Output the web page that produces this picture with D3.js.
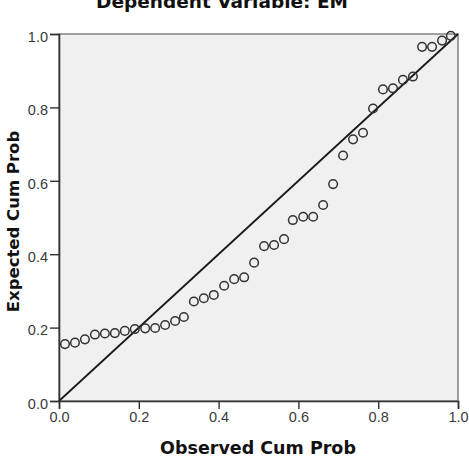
<!DOCTYPE html>
<html>
<head>
<meta charset="utf-8">
<script src="https://cdn.jsdelivr.net/npm/d3@7"></script>
<style>
  body { margin: 0; background: #fff; }
  .tick text { font-family: "Liberation Sans", Arial, sans-serif; font-size: 14.5px; fill: #3a3a3a; }
  .lbl { font-family: "DejaVu Sans", sans-serif; font-weight: bold; fill: #111; }
</style>
</head>
<body>
<div id="chart"></div>
<script>
var observed = [0.015, 0.040, 0.065, 0.090, 0.115, 0.140, 0.165, 0.190, 0.216, 0.241,
                0.266, 0.291, 0.313, 0.338, 0.363, 0.388, 0.414, 0.439, 0.464, 0.489,
                0.514, 0.539, 0.564, 0.586, 0.612, 0.637, 0.662, 0.687, 0.712, 0.737,
                0.762, 0.787, 0.812, 0.837, 0.862, 0.887, 0.910, 0.935, 0.960, 0.982],
    expected = [0.155, 0.159, 0.168, 0.181, 0.184, 0.185, 0.191, 0.196, 0.198, 0.199,
                0.207, 0.218, 0.229, 0.271, 0.280, 0.289, 0.314, 0.332, 0.337, 0.377,
                0.422, 0.425, 0.441, 0.493, 0.502, 0.502, 0.534, 0.591, 0.669, 0.713,
                0.731, 0.797, 0.849, 0.852, 0.875, 0.884, 0.965, 0.965, 0.982, 0.995],
    ticks = [0, 0.2, 0.4, 0.6, 0.8, 1.0],
    title = "Dependent Variable: EM",
    xTitle = "Observed Cum Prob",
    yTitle = "Expected Cum Prob";

var margin = { top: 34, right: 11, bottom: 74, left: 59 },
    W = 469, H = 475,
    width = W - margin.left - margin.right,
    height = H - margin.top - margin.bottom;

var svg = d3.select("#chart").append("svg")
    .attr("width", W)
    .attr("height", H);

// title sits mostly above the visible area, as in the original export
svg.append("text").attr("class", "lbl")
    .attr("x", 222).attr("y", 8)
    .style("font-size", "18.5px")
    .attr("text-anchor", "middle")
    .text(title);

var g = svg.append("g")
    .attr("transform", "translate(" + margin.left + "," + margin.top + ")");

var x = d3.scaleLinear().domain([0, 1]).range([0, width]),
    y = d3.scaleLinear().domain([0, 1]).range([height, 0]);

// plot background + frame
g.append("rect")
    .attr("width", width).attr("height", height)
    .attr("fill", "#f0f0f0")
    .attr("stroke", "#666").attr("stroke-width", 1.2);

// reference line
g.append("line")
    .attr("x1", x(0)).attr("y1", y(0))
    .attr("x2", x(1)).attr("y2", y(1))
    .attr("stroke", "#1a1a1a").attr("stroke-width", 1.8);

var pts = observed.map(function(d, i) { return { o: d, e: expected[i] }; });

g.selectAll(".pt").data(pts).enter().append("circle")
    .attr("class", "pt")
    .attr("cx", function(d) { return x(d.o); })
    .attr("cy", function(d) { return y(d.e); })
    .attr("r", 4.3)
    .attr("fill", "none")
    .attr("stroke", "#333")
    .attr("stroke-width", 1.5);

var xAxis = g.append("g")
    .attr("transform", "translate(0," + height + ")")
    .call(d3.axisBottom(x).tickValues(ticks).tickFormat(d3.format(".1f")).tickSize(8).tickPadding(3));

var yAxis = g.append("g")
    .call(d3.axisLeft(y).tickValues(ticks).tickFormat(d3.format(".1f")).tickSize(9).tickPadding(2));

[xAxis, yAxis].forEach(function(a) {
  a.select(".domain").attr("stroke", "#333").attr("stroke-width", 1.6);
  a.selectAll(".tick line").attr("stroke", "#333").attr("stroke-width", 1.4);
});
yAxis.selectAll(".tick text").attr("dy", "0.5em");

svg.append("text").attr("class", "lbl")
    .attr("x", 258).attr("y", 454)
    .style("font-size", "17.5px")
    .attr("text-anchor", "middle")
    .text(xTitle);

svg.append("text").attr("class", "lbl")
    .attr("transform", "translate(18.5,221.5) rotate(-90)")
    .style("font-size", "16.5px")
    .attr("text-anchor", "middle")
    .text(yTitle);
</script>
</body>
</html>
